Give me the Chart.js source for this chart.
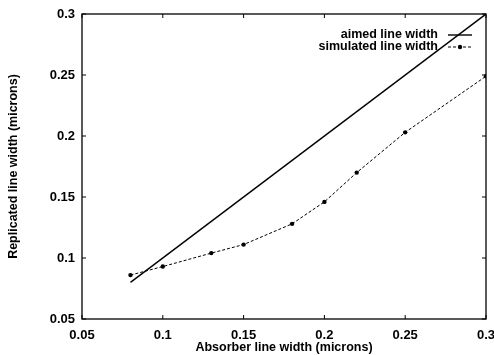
<!DOCTYPE html>
<html>
<head>
<meta charset="utf-8">
<script src="https://cdn.jsdelivr.net/npm/chart.js@4"></script>
<style>
  html, body { margin: 0; padding: 0; background: #fff; }
  #wrap { width: 494px; height: 355px; }
</style>
</head>
<body>
<div id="wrap"><canvas id="widthChart" width="494" height="355"></canvas></div>
<script>
// Absorber line width (x) and replicated line width (y), microns
const absorberWidths = [0.08, 0.1, 0.13, 0.15, 0.18, 0.2, 0.22, 0.25, 0.3];
const simulatedWidths = [0.086, 0.093, 0.104, 0.111, 0.128, 0.146, 0.170, 0.203, 0.249];
const aimedX = [0.08, 0.3];
const aimedY = [0.08, 0.3];
const xTicks = [0.05, 0.1, 0.15, 0.2, 0.25, 0.3];
const yTicks = [0.05, 0.1, 0.15, 0.2, 0.25, 0.3];
const seriesLabels = ['aimed line width', 'simulated line width'];

const FONT = 'Liberation Sans, Arial, Helvetica, sans-serif';
const fmt = v => String(Number(v.toFixed(2)));

// box around the plot with gnuplot-style inward ticks, and the legend
const framePlugin = {
    id: 'frame',
    afterDatasetsDraw(chart) {
        const { ctx, chartArea: a, scales } = chart;
        const len = 4;
        ctx.save();
        ctx.strokeStyle = '#000';
        ctx.lineWidth = 1.3;
        ctx.strokeRect(a.left, a.top, a.right - a.left, a.bottom - a.top);
        ctx.lineWidth = 1;
        ctx.beginPath();
        xTicks.forEach(v => {
            const px = scales.x.getPixelForValue(v);
            ctx.moveTo(px, a.bottom); ctx.lineTo(px, a.bottom - len);
            ctx.moveTo(px, a.top); ctx.lineTo(px, a.top + len);
        });
        yTicks.forEach(v => {
            const py = scales.y.getPixelForValue(v);
            ctx.moveTo(a.left, py); ctx.lineTo(a.left + len, py);
            ctx.moveTo(a.right, py); ctx.lineTo(a.right - len, py);
        });
        ctx.stroke();

        // legend, text right aligned with the sample to its right
        const textRight = a.right - 48;
        const sx0 = a.right - 38, sx1 = a.right - 14;
        ctx.font = 'bold 12.5px ' + FONT;
        ctx.fillStyle = '#000';
        ctx.textAlign = 'right';
        ctx.textBaseline = 'middle';
        chart.data.datasets.forEach((ds, i) => {
            const y = a.top + 21 + i * 12;
            ctx.fillText(ds.label, textRight, y);
            ctx.beginPath();
            ctx.lineWidth = ds.borderWidth;
            ctx.setLineDash(ds.borderDash || []);
            ctx.moveTo(sx0, y); ctx.lineTo(sx1, y);
            ctx.stroke();
            ctx.setLineDash([]);
            if (ds.pointRadius > 0) {
                ctx.beginPath();
                ctx.arc((sx0 + sx1) / 2, y, ds.pointRadius, 0, Math.PI * 2);
                ctx.fill();
            }
        });
        ctx.restore();
    }
};

new Chart(document.getElementById('widthChart').getContext('2d'), {
    type: 'scatter',
    data: {
        datasets: [
            {
                label: seriesLabels[0],
                data: aimedX.map((x, i) => ({ x: x, y: aimedY[i] })),
                showLine: true,
                borderColor: '#000',
                backgroundColor: '#000',
                borderWidth: 1.4,
                pointRadius: 0
            },
            {
                label: seriesLabels[1],
                data: absorberWidths.map((x, i) => ({ x: x, y: simulatedWidths[i] })),
                showLine: true,
                borderColor: '#000',
                backgroundColor: '#000',
                borderWidth: 1,
                borderDash: [3, 2],
                pointRadius: 2.2,
                pointBorderWidth: 0
            }
        ]
    },
    options: {
        responsive: false,
        animation: false,
        layout: { padding: { top: 14, right: 8, left: 0, bottom: 0 } },
        plugins: {
            legend: { display: false },
            tooltip: { enabled: false }
        },
        scales: {
            x: {
                type: 'linear',
                min: 0.05,
                max: 0.3,
                afterBuildTicks: s => { s.ticks = xTicks.map(v => ({ value: v })); },
                afterFit: s => { s.height = 36; s.paddingLeft = 0; s.paddingRight = 0; },
                grid: { display: false, drawTicks: false },
                border: { display: false },
                ticks: {
                    color: '#000',
                    padding: 9,
                    maxRotation: 0,
                    font: { family: FONT, size: 13, weight: 'bold' },
                    callback: v => fmt(v)
                },
                title: {
                    display: true,
                    text: 'Absorber line width (microns)',
                    color: '#000',
                    font: { family: FONT, size: 12.5, weight: 'bold' },
                    padding: { top: 0, bottom: 0 }
                }
            },
            y: {
                type: 'linear',
                min: 0.05,
                max: 0.3,
                afterBuildTicks: s => { s.ticks = yTicks.map(v => ({ value: v })); },
                afterFit: s => { s.width = 82; s.paddingTop = 0; s.paddingBottom = 0; },
                grid: { display: false, drawTicks: false },
                border: { display: false },
                ticks: {
                    color: '#000',
                    padding: 7,
                    font: { family: FONT, size: 13, weight: 'bold' },
                    callback: v => fmt(v)
                },
                title: {
                    display: true,
                    text: 'Replicated line width (microns)',
                    color: '#000',
                    font: { family: FONT, size: 12.5, weight: 'bold' },
                    padding: { top: 6, bottom: 0 }
                }
            }
        }
    },
    plugins: [framePlugin]
});
</script>
</body>
</html>
